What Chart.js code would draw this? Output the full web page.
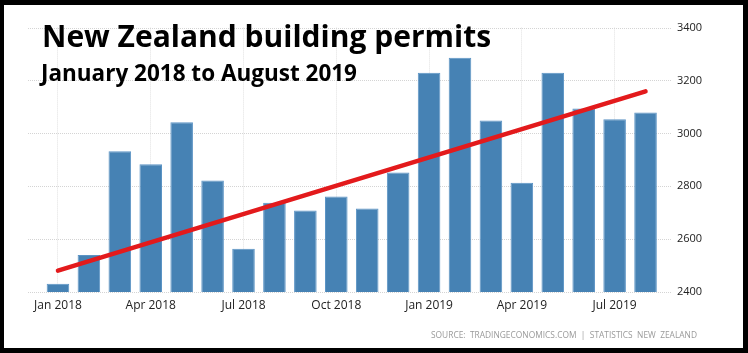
<!DOCTYPE html>
<html>
<head>
<meta charset="utf-8">
<script src="https://cdn.jsdelivr.net/npm/chart.js@4"></script>
<style>
  html, body { margin: 0; padding: 0; background: #000; }
  #wrap { position: absolute; left: 4px; top: 5px; width: 739px; height: 343px; background: #fff; }
  #chart { display: block; }
</style>
</head>
<body>
<div id="wrap"><canvas id="chart" width="739" height="343"></canvas></div>
<script>
const months = ['Jan 2018', 'Feb 2018', 'Mar 2018', 'Apr 2018', 'May 2018', 'Jun 2018',
    'Jul 2018', 'Aug 2018', 'Sep 2018', 'Oct 2018', 'Nov 2018', 'Dec 2018',
    'Jan 2019', 'Feb 2019', 'Mar 2019', 'Apr 2019', 'May 2019', 'Jun 2019',
    'Jul 2019', 'Aug 2019'];
const permits = [2431, 2540, 2932, 2883, 3042, 2822, 2564, 2738, 2708, 2761,
    2716, 2852, 3229, 3286, 3049, 2813, 3229, 3094, 3053, 3079];
const trendStart = 2481;
const trendEnd = 3159;
const xTickLabels = ['Jan 2018', 'Apr 2018', 'Jul 2018', 'Oct 2018', 'Jan 2019', 'Apr 2019', 'Jul 2019'];
const yTicks = [2400, 2600, 2800, 3000, 3200, 3400];

const titleText = 'New Zealand building permits';
const subtitleText = 'January 2018 to August 2019';
const sourceText = 'SOURCE:  TRADINGECONOMICS.COM  |  STATISTICS  NEW  ZEALAND';

// trend line only has its two end points, the gap is spanned
const trend = months.map(function (m, i) {
    if (i === 0) return trendStart;
    if (i === months.length - 1) return trendEnd;
    return null;
});

// dotted horizontal grid that runs a bit past the bars on both sides
const hGrid = {
    id: 'hGrid',
    beforeDatasetsDraw: function (chart) {
        const y = chart.scales.y;
        const ctx = chart.ctx;
        ctx.save();
        ctx.strokeStyle = '#d4d4d4';
        ctx.lineWidth = 1;
        ctx.setLineDash([1, 1]);
        y.ticks.forEach(function (t) {
            const py = Math.round(y.getPixelForValue(t.value)) + 0.5;
            ctx.beginPath();
            ctx.moveTo(24, py);
            ctx.lineTo(668, py);
            ctx.stroke();
        });
        ctx.restore();
    }
};

const texts = {
    id: 'texts',
    afterDraw: function (chart) {
        const ctx = chart.ctx;
        ctx.save();
        ctx.fillStyle = '#000';
        ctx.textAlign = 'left';
        ctx.textBaseline = 'alphabetic';
        ctx.font = 'bold 30px "Open Sans"';
        ctx.fillText(titleText, 38, 42, 456);
        ctx.font = 'bold 22.5px "Open Sans"';
        ctx.fillText(subtitleText, 37, 76, 320);
        ctx.fillStyle = '#9a9a9a';
        ctx.font = '9px "Open Sans"';
        ctx.textAlign = 'right';
        ctx.textBaseline = 'middle';
        ctx.fillText(sourceText, 693, 330, 266);
        ctx.restore();
    }
};

new Chart(document.getElementById('chart'), {
    data: {
        labels: months,
        datasets: [{
            type: 'line',
            label: 'Trend',
            data: trend,
            spanGaps: true,
            borderColor: '#e31a1c',
            borderWidth: 4.5,
            borderCapStyle: 'round',
            pointRadius: 0,
            order: 0
        }, {
            type: 'bar',
            label: 'Building permits',
            data: permits,
            backgroundColor: '#4682b4',
            borderColor: '#5c94c5',
            borderWidth: 1,
            barPercentage: 0.73,
            categoryPercentage: 1,
            order: 1
        }]
    },
    options: {
        responsive: false,
        animation: false,
        layout: { padding: { left: 38.5, right: 0, top: 20, bottom: 0 } },
        plugins: {
            legend: { display: false },
            tooltip: { enabled: false }
        },
        scales: {
            x: {
                offset: true,
                grid: {
                    offset: false,
                    drawTicks: false,
                    color: function (c) {
                        return xTickLabels.indexOf(months[c.index]) >= 0 ? '#e2e2e2' : 'transparent';
                    }
                },
                border: { display: false, dash: [1, 1] },
                ticks: {
                    autoSkip: false,
                    maxRotation: 0,
                    padding: 6,
                    color: '#222',
                    font: { family: 'Open Sans', size: 12 },
                    callback: function (v, i) {
                        return xTickLabels.indexOf(months[i]) >= 0 ? months[i] : '';
                    }
                },
                afterFit: function (s) { s.height = 56; }
            },
            y: {
                position: 'right',
                min: 2400,
                max: 3400,
                afterBuildTicks: function (s) {
                    s.ticks = yTicks.map(function (v) { return { value: v }; });
                },
                grid: { display: false, drawTicks: false },
                border: { display: false },
                ticks: {
                    padding: 16,
                    color: '#222',
                    font: { family: 'Open Sans', size: 11 },
                    callback: function (v) { return String(v); }
                },
                afterFit: function (s) { s.width = 82; }
            }
        }
    },
    plugins: [hGrid, texts]
});
</script>
</body>
</html>
